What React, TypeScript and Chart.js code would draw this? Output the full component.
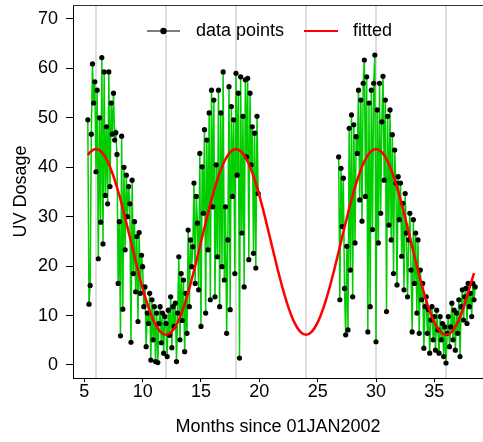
import React, { useEffect, useRef } from "react";
import { Chart, registerables } from "chart.js";

Chart.register(...registerables);

// ---- data ----
const monthsA = [
  5.3, 5.4, 5.5, 5.6, 5.7, 5.8, 5.9, 6.0, 6.1, 6.2,
  6.3, 6.4, 6.5, 6.6, 6.7, 6.8, 6.9, 7.0, 7.1, 7.2,
  7.3, 7.4, 7.5, 7.6, 7.7, 7.8, 7.9, 8.0, 8.1, 8.2,
  8.3, 8.4, 8.5, 8.6, 8.7, 8.8, 8.9, 9.0, 9.1, 9.2,
  9.3, 9.4, 9.5, 9.6, 9.7, 9.8, 9.9, 10.0, 10.1, 10.2,
  10.3, 10.4, 10.5, 10.6, 10.7, 10.8, 10.9, 11.0, 11.1, 11.2,
  11.3, 11.4, 11.5, 11.6, 11.7, 11.8, 11.9, 12.0, 12.1, 12.2,
  12.3, 12.4, 12.5, 12.6, 12.7, 12.8, 12.9, 13.0, 13.1, 13.2,
  13.3, 13.4, 13.5, 13.6, 13.7, 13.8, 13.9, 14.0, 14.1, 14.2,
  14.3, 14.4, 14.5, 14.6, 14.7, 14.8, 14.9, 15.0, 15.1, 15.2,
  15.3, 15.4, 15.5, 15.6, 15.7, 15.8, 15.9, 16.0, 16.1, 16.2,
  16.3, 16.4, 16.5, 16.6, 16.7, 16.8, 16.9, 17.0, 17.1, 17.2,
  17.3, 17.4, 17.5, 17.6, 17.7, 17.8, 17.9, 18.0, 18.1, 18.2,
  18.3, 18.4, 18.5, 18.6, 18.7, 18.8, 18.9, 19.0, 19.1, 19.2,
  19.3, 19.4, 19.5, 19.6, 19.7, 19.8, 19.9,
];
const uvA = [
  49.6, 12.3, 16.1, 46.7, 60.9, 53, 57.3, 39.1, 55.6, 21.5,
  50, 28.9, 62.2, 24.5, 59.3, 34.3, 48.2, 32.6, 59.3, 36.1,
  53, 46.7, 55, 45.5, 47, 42.6, 16.5, 29, 5.9, 46.3,
  11.3, 40, 23.3, 38.4, 30, 36.1, 32.6, 4.6, 37.4, 18.5,
  29, 14.8, 26, 8.8, 26.8, 14.5, 22.2, 19.9, 11.8, 15.8,
  3.7, 10.5, 8.4, 14.5, 1, 13.2, 5.1, 11.8, 0.7, 10.5,
  0.5, 8.4, 11.8, 4.5, 10.5, 2.4, 9.8, 8.4, 1.7, 11.1,
  6, 13.8, 3.5, 11.8, 7.8, 12.5, 0.7, 10.5, 21.9, 5.1,
  18.5, 9, 17.2, 2.7, 14.5, 6.4, 27.3, 11.8, 25.3, 19.9,
  23.9, 36.8, 16.5, 34.1, 28.7, 15.2, 42.8, 7.8, 40.1, 30.7,
  47.6, 10.5, 45.5, 23.3, 51, 13.2, 55.6, 32, 53.6, 13.8,
  40.5, 21.9, 55.6, 11.8, 51, 19.9, 59.3, 17.2, 32, 6.4,
  25.3, 56.3, 11.2, 52.3, 34.1, 49.6, 18.5, 59, 38.4, 55,
  1.4, 58.3, 26.7, 50.3, 15.8, 57.7, 42.1, 58, 21.3, 55,
  40.5, 48.2, 22.6, 46.9, 19.6, 50.3, 34.7,
];

const monthsB = [
  26.8, 26.9, 27.0, 27.1, 27.2, 27.3, 27.4, 27.5, 27.6, 27.7,
  27.8, 27.9, 28.0, 28.1, 28.2, 28.3, 28.4, 28.5, 28.6, 28.7,
  28.8, 28.9, 29.0, 29.1, 29.2, 29.3, 29.4, 29.5, 29.6, 29.7,
  29.8, 29.9, 30.0, 30.1, 30.2, 30.3, 30.4, 30.5, 30.6, 30.7,
  30.8, 30.9, 31.0, 31.1, 31.2, 31.3, 31.4, 31.5, 31.6, 31.7,
  31.8, 31.9, 32.0, 32.1, 32.2, 32.3, 32.4, 32.5, 32.6, 32.7,
  32.8, 32.9, 33.0, 33.1, 33.2, 33.3, 33.4, 33.5, 33.6, 33.7,
  33.8, 33.9, 34.0, 34.1, 34.2, 34.3, 34.4, 34.5, 34.6, 34.7,
  34.8, 34.9, 35.0, 35.1, 35.2, 35.3, 35.4, 35.5, 35.6, 35.7,
  35.8, 35.9, 36.0, 36.1, 36.2, 36.3, 36.4, 36.5, 36.6, 36.7,
  36.8, 36.9, 37.0, 37.1, 37.2, 37.3, 37.4, 37.5, 37.6, 37.7,
  37.8, 37.9, 38.0, 38.1, 38.2, 38.3, 38.4, 38.5,
];
const uvB = [
  42.1, 13.2, 39.8, 28, 37.8, 15.5, 6.1, 24, 7.1, 47.9,
  19.2, 50.6, 13.8, 48.6, 24.7, 46.2, 42.8, 55.6, 33.4, 53.6,
  29.1, 57, 61.7, 34.1, 58.3, 6.7, 53, 11.8, 55.6, 27.4,
  57, 62.7, 4.7, 51.6, 24.7, 57, 30.7, 49.2, 58.4, 37.4,
  53.6, 10.8, 50.3, 28.3, 51.6, 25.3, 46.6, 18.5, 43.5, 36.8,
  16.2, 38.1, 29.4, 36.8, 22, 32.7, 15.2, 34.7, 26.7, 13.8,
  25.3, 30.7, 19.2, 6.7, 29.4, 16.5, 26.7, 10.5, 25.3, 6.4,
  19.2, 13.2, 16.5, 3.4, 11.8, 13.8, 6.4, 11.2, 2.4, 9.1,
  11.8, 5.1, 9.8, 3, 11.1, 7.1, 2.4, 9.8, 5.1, 8.4,
  1.7, 7.7, 0.4, 6.4, 9.8, 3.7, 7.7, 12.5, 5.1, 11.1,
  3, 10.5, 6.4, 13.2, 1.7, 11.8, 15.2, 9.1, 13.8, 15.5,
  8.4, 16.5, 11.8, 14.5, 9.8, 16.5, 13.2, 15.8,
];

const fitMonths = [
  5.3, 5.5, 6, 6.5, 7, 7.5, 8, 8.5, 9, 9.5, 10, 10.5, 11, 11.5, 12,
  12.5, 13, 13.5, 14, 14.5, 15, 15.5, 16, 16.5, 17, 17.5, 18,
  18.5, 19, 19.5, 20, 20.5, 21, 21.5, 22, 22.5, 23, 23.5, 24,
  24.5, 25, 25.5, 26, 26.5, 27, 27.5, 28, 28.5, 29, 29.5, 30,
  30.5, 31, 31.5, 32, 32.5, 33, 33.5, 34, 34.5, 35, 35.5, 36,
  36.5, 37, 37.5, 38, 38.4,
];
const fitUV = [
  42.45, 43.06, 43.7, 43.06, 41.18, 38.19, 34.3, 29.77, 24.9, 20.03, 15.5, 11.61, 8.62, 6.74, 6.1,
  6.74, 8.62, 11.61, 15.5, 20.03, 24.9, 29.77, 34.3, 38.19, 41.18, 43.06, 43.7,
  43.06, 41.18, 38.19, 34.3, 29.77, 24.9, 20.03, 15.5, 11.61, 8.62, 6.74, 6.1,
  6.74, 8.62, 11.61, 15.5, 20.03, 24.9, 29.77, 34.3, 38.19, 41.18, 43.06, 43.7,
  43.06, 41.18, 38.19, 34.3, 29.77, 24.9, 20.03, 15.5, 11.61, 8.62, 6.74, 6.1,
  6.74, 8.62, 11.61, 15.5, 18.6,
];

const xTicks = [5, 10, 15, 20, 25, 30, 35];
const yTicks = [0, 10, 20, 30, 40, 50, 60, 70];
const refMonths = [6, 12, 18, 24, 30, 36];
const legendLabels = ["data points", "fitted"];
const xTitle = "Months since 01JAN2002";
const yTitle = "UV Dosage";

const FONT = "'Liberation Sans', Arial, Helvetica, sans-serif";

export default function App() {
  const ref = useRef<HTMLCanvasElement | null>(null);

  useEffect(() => {
    const canvas = ref.current;
    if (!canvas) return;
    const pts = (xs: number[], ys: number[]) => xs.map((x, i) => ({ x, y: ys[i] }));

    const overlay = {
      id: "overlay",
      beforeDatasetsDraw(chart: any) {
        const { ctx, chartArea: a, scales } = chart;
        const xs = scales.x;
        ctx.save();
        ctx.strokeStyle = "#d3d3d3";
        ctx.lineWidth = 1.5;
        refMonths.forEach((m) => {
          const px = xs.getPixelForValue(m);
          ctx.beginPath();
          ctx.moveTo(px, a.top);
          ctx.lineTo(px, a.bottom);
          ctx.stroke();
        });
        ctx.restore();
      },
      afterDraw(chart: any) {
        const { ctx, chartArea: a } = chart;
        ctx.save();
        ctx.strokeStyle = "#333";
        ctx.lineWidth = 1;
        ctx.beginPath();
        ctx.moveTo(a.left, a.top + 0.5);
        ctx.lineTo(a.right, a.top + 0.5);
        ctx.stroke();

        const ly = a.top + 26;
        const lx = a.left + 74;
        ctx.strokeStyle = "#000";
        ctx.lineWidth = 1;
        ctx.beginPath();
        ctx.moveTo(lx, ly);
        ctx.lineTo(lx + 33, ly);
        ctx.stroke();
        ctx.fillStyle = "#000";
        ctx.beginPath();
        ctx.arc(lx + 16.5, ly, 3.2, 0, Math.PI * 2);
        ctx.fill();
        ctx.font = `18px ${FONT}`;
        ctx.textBaseline = "middle";
        ctx.textAlign = "left";
        ctx.fillText(legendLabels[0], lx + 49, ly);
        ctx.strokeStyle = "#ff0000";
        ctx.lineWidth = 2;
        ctx.beginPath();
        ctx.moveTo(lx + 157, ly);
        ctx.lineTo(lx + 191, ly);
        ctx.stroke();
        ctx.fillText(legendLabels[1], lx + 206, ly);
        ctx.restore();
      },
    };

    const dataStyle = {
      borderColor: "#00cd00",
      borderWidth: 1.5,
      pointRadius: 2.6,
      pointBackgroundColor: "#000",
      pointBorderColor: "#000",
      pointBorderWidth: 0,
      tension: 0,
      order: 2,
      fill: false,
    };

    const chart = new Chart(canvas, {
      type: "line",
      data: {
        datasets: [
          { label: legendLabels[0], data: pts(monthsA, uvA), ...dataStyle },
          { label: legendLabels[0] + " b", data: pts(monthsB, uvB), ...dataStyle },
          {
            label: legendLabels[1],
            data: pts(fitMonths, fitUV),
            borderColor: "#ff0000",
            borderWidth: 2.5,
            pointRadius: 0,
            cubicInterpolationMode: "monotone",
            order: 1,
            fill: false,
          },
        ],
      },
      options: {
        animation: false,
        responsive: false,
        devicePixelRatio: 1,
        events: [],
        layout: { autoPadding: false, padding: { top: 5, right: 0, bottom: 0, left: 0 } },
        plugins: { legend: { display: false }, tooltip: { enabled: false } },
        scales: {
          x: {
            type: "linear",
            min: 4.03,
            max: 39.17,
            afterBuildTicks: (s: any) => {
              s.ticks = xTicks.map((v) => ({ value: v }));
            },
            afterFit: (s: any) => {
              s.height = 64;
              s.paddingLeft = 0;
              s.paddingRight = 0;
            },
            grid: { drawOnChartArea: false, drawTicks: true, tickLength: 4, tickColor: "#000", tickWidth: 1 },
            border: { color: "#000", width: 1 },
            ticks: {
              color: "#000",
              font: { family: FONT, size: 18 },
              padding: -1,
              maxRotation: 0,
              autoSkip: false,
              callback: (v: any) => String(v),
            },
            title: {
              display: true,
              text: xTitle,
              color: "#000",
              font: { family: FONT, size: 18 },
              padding: { top: 0, bottom: 4 },
            },
          },
          y: {
            type: "linear",
            min: -2.63,
            max: 72.83,
            afterBuildTicks: (s: any) => {
              s.ticks = yTicks.map((v) => ({ value: v }));
            },
            afterFit: (s: any) => {
              s.width = 73;
              s.paddingTop = 0;
              s.paddingBottom = 0;
            },
            grid: { drawOnChartArea: false, drawTicks: true, tickLength: 7, tickColor: "#000", tickWidth: 1 },
            border: { color: "#000", width: 1 },
            ticks: {
              color: "#000",
              font: { family: FONT, size: 18 },
              padding: 8,
              autoSkip: false,
              callback: (v: any) => String(v),
            },
            title: {
              display: true,
              text: yTitle,
              color: "#000",
              font: { family: FONT, size: 18 },
              padding: { top: 10, bottom: 0 },
            },
          },
        },
      },
      plugins: [overlay],
    } as any);

    return () => chart.destroy();
  }, []);

  return (
    <div style={{ position: "absolute", left: 0, top: 0, width: 483, height: 442, background: "#fff" }}>
      <canvas ref={ref} width={483} height={442} style={{ width: 483, height: 442 }} />
    </div>
  );
}
